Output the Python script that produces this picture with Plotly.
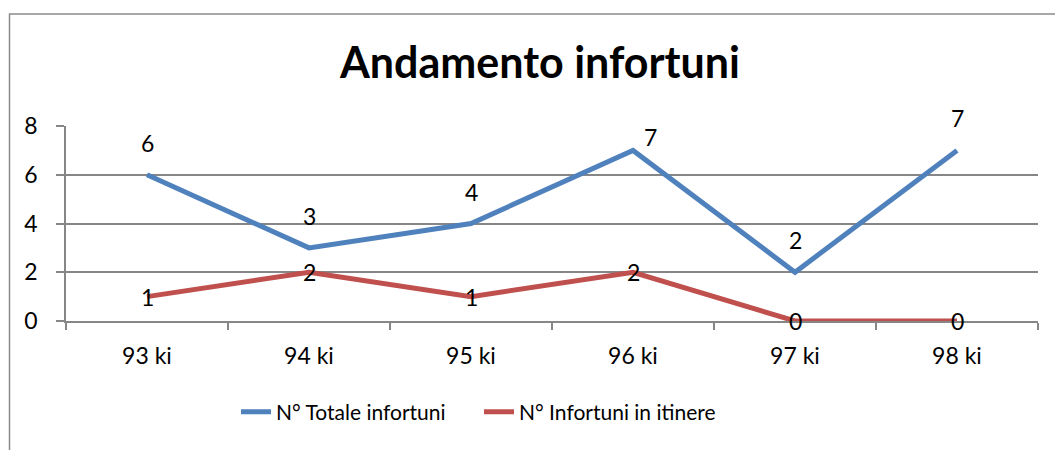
import plotly.graph_objects as go

# dati del grafico
anni = ['93 ki', '94 ki', '95 ki', '96 ki', '97 ki', '98 ki']
totale_infortuni = [6, 3, 4, 7, 2, 7]
infortuni_itinere = [1, 2, 1, 2, 0, 0]

BLU = '#4F81BD'
ROSSO = '#C0504D'
GRIGIO = '#868686'
FONT = 'Lato'

fig = go.Figure()

fig.add_trace(go.Scatter(
    x=anni, y=totale_infortuni,
    mode='lines',
    name='N° Totale infortuni',
    line=dict(color=BLU, width=5),
))
fig.add_trace(go.Scatter(
    x=anni, y=infortuni_itinere,
    mode='lines',
    name='N° Infortuni in itinere',
    line=dict(color=ROSSO, width=5),
))

# etichette dati (blu sopra il punto, rosse centrate sul punto)
for i, (a, v) in enumerate(zip(anni, totale_infortuni)):
    dx, dy = (17, 13) if i == 3 else (0, 32)  # etichetta 96 ki spostata a mano
    fig.add_annotation(x=a, y=v, text=str(v), showarrow=False,
                       xshift=dx, yshift=dy,
                       font=dict(family=FONT, size=23, color='black'))
for a, v in zip(anni, infortuni_itinere):
    fig.add_annotation(x=a, y=v, text=str(v), showarrow=False,
                       font=dict(family=FONT, size=23, color='black'))

# cornice esterna del grafico
W, H = 1055, 450
L, R, T, B = 66, 17, 126, 129
pw, ph = W - L - R, H - T - B
fig.add_shape(type='rect', xref='paper', yref='paper',
              x0=(9.5 - L) / pw, x1=(W + 10 - L) / pw,
              y0=(T + ph - (H + 10)) / ph, y1=(T + ph - 14) / ph,
              line=dict(color='#8C8C8C', width=1.5), layer='below')

fig.update_layout(
    width=W, height=H,
    margin=dict(l=L, r=R, t=T, b=B),
    plot_bgcolor='white',
    paper_bgcolor='white',
    title=dict(
        text='<b>Andamento infortuni</b>',
        xref='container', x=540 / W, xanchor='center',
        yref='container', y=1 - 63 / H, yanchor='middle',
        font=dict(family=FONT, size=43, color='black'),
    ),
    xaxis=dict(
        type='category',
        range=[-0.5, 5.5],
        showgrid=False,
        showline=True, linecolor=GRIGIO, linewidth=1.5,
        ticks='outside', tickson='boundaries', ticklen=7,
        tickcolor=GRIGIO, tickwidth=1.5,
        ticklabelstandoff=14,
        tickfont=dict(family=FONT, size=23, color='black'),
        layer='below traces',
        fixedrange=True,
    ),
    yaxis=dict(
        range=[0, 8],
        dtick=2,
        showgrid=True, gridcolor=GRIGIO, gridwidth=1.5,
        zeroline=False,
        showline=True, linecolor=GRIGIO, linewidth=1.5,
        ticks='outside', ticklen=8, tickcolor=GRIGIO, tickwidth=1.5,
        ticklabelstandoff=14,
        tickfont=dict(family=FONT, size=23, color='black'),
        layer='below traces',
        fixedrange=True,
    ),
    showlegend=True,
    legend=dict(
        orientation='h',
        x=(236 - L) / pw, xanchor='left',
        y=(T + ph - 412) / ph, yanchor='middle',
        entrywidth=198,
        font=dict(family=FONT, size=21, color='black'),
        bgcolor='rgba(0,0,0,0)',
    ),
)

# niente margine del body, il grafico parte da (0, 0); niente barra strumenti
fig.write_html('out.html', config={'displayModeBar': False},
               post_script="document.body.style.margin='0';")
